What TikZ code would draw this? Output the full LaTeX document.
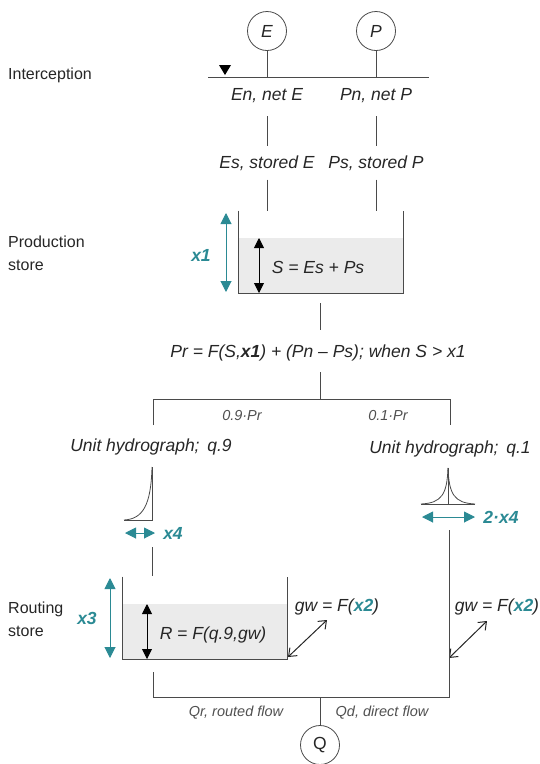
\documentclass[tikz,border=0pt]{standalone}
\usepackage{fontspec}
\setmainfont{Liberation Sans}
\usetikzlibrary{arrows.meta,positioning,calc}
\definecolor{hyteal}{HTML}{2B8A94}
\definecolor{hyline}{HTML}{4A4A4A}
\definecolor{hytext}{HTML}{262626}
\definecolor{hyfill}{HTML}{EBEBEB}
\definecolor{hysmall}{HTML}{505050}

\begin{document}
\begin{tikzpicture}[x=1pt,y=-1pt,
  lbl/.style={font=\fontsize{17.5}{20}\selectfont\itshape,text=hytext,inner sep=1pt},
  sidelbl/.style={font=\fontsize{16}{23}\selectfont,text=hytext,align=left,anchor=west,inner sep=0pt},
  small/.style={font=\fontsize{14.5}{16}\selectfont\itshape,text=hysmall,inner sep=1pt},
  param/.style={font=\fontsize{17.5}{20}\selectfont\bfseries\itshape,text=hyteal,inner sep=1pt},
  flux/.style={draw=hyline,line width=0.8pt},
  tank/.style={draw=hyline,line width=0.9pt,minimum width=164pt,minimum height=82pt,inner sep=0pt},
  ball/.style={circle,draw=hyline,line width=0.8pt,minimum size=39pt,inner sep=0pt,
    font=\fontsize{17.5}{20}\selectfont,text=hytext},
  level/.style={draw=black,line width=0.9pt,
    {Triangle[width=10pt,length=10pt]}-{Triangle[width=10pt,length=10pt]}},
  depth/.style={draw=hyteal,line width=1pt,
    {Triangle[width=11pt,length=11pt]}-{Triangle[width=11pt,length=11pt]}},
  exch/.style={draw=hytext,line width=1pt,
    {Straight Barb[length=7pt,width=11pt]}-{Straight Barb[length=7pt,width=11pt]}}
]
\useasboundingbox (0,0) rectangle (539,764);

  % ---- Interception ---------------------------------------------
  \node[sidelbl] (intlbl) at (8,75) {Interception};
  \node[ball,font=\fontsize{17.5}{20}\selectfont\itshape] (E) at (267,31) {E};
  \node[ball,font=\fontsize{17.5}{20}\selectfont\itshape] (P) at (376,31) {P};
  \coordinate (icpL) at (208,77);
  \coordinate (icpR) at (429,77);
  \draw[flux] (icpL) -- (icpR);
  \draw[flux] (E) -- (E |- icpL);
  \draw[flux] (P) -- (P |- icpL);
  \fill[black] (219,65) -- (231,65) -- (225,75) -- cycle;

  \node[lbl] (En) at (267,96) {En, net E};
  \node[lbl] (Pn) at (376,96) {Pn, net P};
  \node[lbl] (Es) at (267,163) {Es, stored E};
  \node[lbl] (Ps) at (376,163) {Ps, stored P};
  \draw[flux,shorten <=12pt,shorten >=8pt] (En) -- (Es);
  \draw[flux,shorten <=12pt,shorten >=8pt] (Pn) -- (Ps);

  % ---- Production store -----------------------------------------
  \node[sidelbl] (prodlbl) at (8,253) {Production\\store};
  \node[tank,draw=none] (prod) at (320.5,252) {};
  \fill[hyfill] (prod.south west) rectangle ([yshift=55pt]prod.south east);
  \draw[tank] (prod.north west) -- (prod.south west) -- (prod.south east) -- (prod.north east);
  \draw[flux,shorten <=8pt] (Es) -- (Es |- prod.north);
  \draw[flux,shorten <=8pt] (Ps) -- (Ps |- prod.north);
  \draw[level] (259,238) -- (259,293);
  \node[lbl] (S) at (318,267) {S = Es + Ps};
  \draw[depth] (226,213) -- (226,292);
  \node[param] (x1) at (201,255) {x1};

  % ---- Effective rainfall split ----------------------------------
  \node[lbl] (Pr) at (318,353) {Pr = F(S,\textbf{x1}) + (Pn – Ps); when S > x1};
  \draw[flux] ([yshift=-10pt]prod.south) -- ([yshift=14pt]prod.south |- Pr.north);
  \coordinate (split) at (320,399);
  \coordinate (splitL) at (153,399);
  \coordinate (splitR) at (450,399);
  \draw[flux] ([yshift=-10pt]Pr.south -| split) -- (split);
  \draw[flux] (153,425) -- (splitL) -- (splitR) -- (450,425);
  \node[small] (q9) at (242,416) {0.9·Pr};
  \node[small] (q1) at (388,416) {0.1·Pr};

  % ---- Unit hydrographs -----------------------------------------
  \node[lbl] (uh1) at (151,447) {Unit hydrograph;\, q.9};
  \node[lbl] (uh2) at (450,449) {Unit hydrograph;\, q.1};
  \draw[hyline,line width=0.8pt] (124,520) -- (152,520) -- (152,467);
  \draw[hyline,line width=0.8pt] (124,520) .. controls (143,519) and (151,505) .. (152,467);
  \draw[depth] (125,533) -- (155,533);
  \node[param] (x4) at (173,533) {x4};

  \draw[hyline,line width=0.8pt] (421,504) -- (475,504);
  \draw[hyline,line width=0.8pt] (448,504) -- (448,468);
  \draw[hyline,line width=0.8pt] (421,504) .. controls (442,503) and (447,494) .. (448,468);
  \draw[hyline,line width=0.8pt] (475,504) .. controls (454,503) and (449,494) .. (448,468);
  \draw[depth] (422,517) -- (475,517);
  \node[param] (x4b) at (501,517) {2·x4};

  % ---- Routing store --------------------------------------------
  \node[sidelbl] (routlbl) at (8,619) {Routing\\store};
  \node[tank,draw=none] (rout) at (205,618) {};
  \fill[hyfill] (rout.south west) rectangle ([yshift=55pt]rout.south east);
  \draw[tank] (rout.north west) -- (rout.south west) -- (rout.south east) -- (rout.north east);
  \draw[flux] (152,547) -- (152 ,576);
  \draw[level] (147,604) -- (147,659);
  \node[lbl] (R) at (213,635) {R = F(q.9,gw)};
  \draw[depth] (110,578) -- (110,658);
  \node[param] (x3) at (87,618) {x3};

  % ---- Groundwater exchange -------------------------------------
  \node[lbl] (gw1) at (337,607) {gw = F(\textcolor{hyteal}{\textbf{x2}})};
  \node[lbl] (gw2) at (497,607) {gw = F(\textcolor{hyteal}{\textbf{x2}})};
  \draw[exch] (288,657) -- (327,620);
  \draw[exch] (449,658) -- (487,621);

  % ---- Outflow --------------------------------------------------
  \node[ball] (Q) at (320,745) {Q};
  \coordinate (outL) at (153,697);
  \coordinate (outR) at (449,697);
  \draw[flux] ([yshift=-13pt]rout.south -| outL) -- (outL) -- (outR) -- (449,530);
  \draw[flux] (Q) -- (Q |- outL);
  \node[small] (Qr) at (236,713) {Qr, routed flow};
  \node[small] (Qd) at (382,713) {Qd, direct flow};

\end{tikzpicture}
\end{document}
